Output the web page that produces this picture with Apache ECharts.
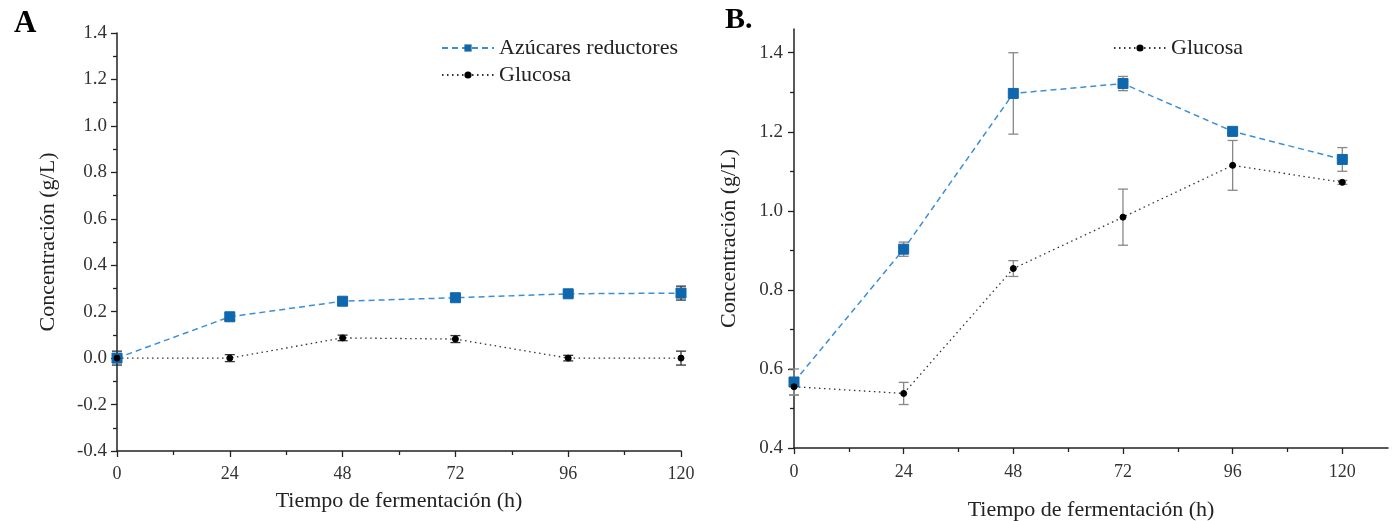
<!DOCTYPE html>
<html>
<head>
<meta charset="utf-8">
<script src="https://cdn.jsdelivr.net/npm/echarts@6/dist/echarts.min.js"></script>
<style>
  html, body { margin: 0; padding: 0; background: #fff; }
  #main { width: 1395px; height: 521px; }
</style>
</head>
<body>
<div id="main"></div>
<script>
// tiempos (h)
var horas = [0, 24, 48, 72, 96, 120];
var xTicks = [0, 24, 48, 72, 96, 120];

// panel A
var azucaresA = [0.0, 0.178, 0.245, 0.26, 0.277, 0.28];
var azucaresA_err = [0.03, 0.017, 0.01, 0.015, 0.01, 0.03];
var glucosaA = [0.0, 0.0, 0.087, 0.082, 0.0, 0.0];
var glucosaA_err = [0.0, 0.015, 0.012, 0.015, 0.012, 0.03];
var yTicksA = [-0.4, -0.2, 0.0, 0.2, 0.4, 0.6, 0.8, 1.0, 1.2, 1.4];

// panel B
var azucaresB = [0.567, 0.903, 1.297, 1.322, 1.201, 1.13];
var azucaresB_err = [0.033, 0.018, 0.103, 0.018, 0.008, 0.03];
var glucosaB = [0.555, 0.538, 0.854, 0.984, 1.115, 1.072];
var glucosaB_err = [0.021, 0.028, 0.02, 0.071, 0.063, 0.005];
var yTicksB = [0.4, 0.6, 0.8, 1.0, 1.2, 1.4];

var serif = 'Liberation Serif';
var blueLine = '#3a8fd6';
var blueMark = '#0f67ad';

function pts(ys) {
  return horas.map(function (h, i) { return [h, ys[i]]; });
}
function errs(ys, es) {
  return horas.map(function (h, i) { return [h, ys[i] - es[i], ys[i] + es[i]]; });
}

function errorSeries(idx, data, color) {
  return {
    type: 'custom',
    xAxisIndex: idx,
    yAxisIndex: idx,
    silent: true,
    z: 1,
    data: data,
    renderItem: function (params, api) {
      var x = api.value(0);
      var lo = api.coord([x, api.value(1)]);
      var hi = api.coord([x, api.value(2)]);
      var w = 5;
      var st = { stroke: color, lineWidth: 1.3 };
      return {
        type: 'group',
        children: [
          { type: 'line', shape: { x1: lo[0], y1: lo[1], x2: hi[0], y2: hi[1] }, style: st },
          { type: 'line', shape: { x1: lo[0] - w, y1: lo[1], x2: lo[0] + w, y2: lo[1] }, style: st },
          { type: 'line', shape: { x1: hi[0] - w, y1: hi[1], x2: hi[0] + w, y2: hi[1] }, style: st }
        ]
      };
    }
  };
}

function xAxis(idx, max, gap, margin) {
  return {
    gridIndex: idx,
    type: 'value',
    min: 0,
    max: max,
    interval: 24,
    name: 'Tiempo de fermentación (h)',
    nameLocation: 'middle',
    nameGap: gap,
    nameTextStyle: { fontFamily: serif, fontSize: 22, color: '#222' },
    axisLine: { onZero: false, lineStyle: { color: '#222', width: 1.5 } },
    axisTick: { show: true, length: 6, customValues: xTicks, lineStyle: { color: '#222', width: 1.3 } },
    minorTick: { show: true, splitNumber: 2, length: 4, lineStyle: { color: '#222', width: 1.3 } },
    axisLabel: { customValues: xTicks, margin: margin, fontFamily: serif, fontSize: 18, color: '#333' },
    splitLine: { show: false }
  };
}

function yAxis(idx, min, max, ticks, gap, margin) {
  return {
    gridIndex: idx,
    type: 'value',
    min: min,
    max: max,
    interval: 0.2,
    name: 'Concentración (g/L)',
    nameLocation: 'middle',
    nameGap: gap,
    nameTextStyle: { fontFamily: serif, fontSize: 22, color: '#222' },
    axisLine: { show: true, onZero: false, lineStyle: { color: '#222', width: 1.5 } },
    axisTick: { show: true, length: 6, customValues: ticks, lineStyle: { color: '#222', width: 1.3 } },
    minorTick: { show: true, splitNumber: 2, length: 4, lineStyle: { color: '#222', width: 1.3 } },
    axisLabel: {
      customValues: ticks,
      margin: margin,
      fontFamily: serif, fontSize: 19, color: '#333',
      formatter: function (v) { return v.toFixed(1); }
    },
    splitLine: { show: false }
  };
}

function azSeries(idx, ys) {
  return {
    name: 'Azúcares reductores',
    type: 'line',
    xAxisIndex: idx,
    yAxisIndex: idx,
    data: pts(ys),
    symbol: 'rect',
    symbolSize: 10,
    z: 3,
    lineStyle: { color: blueLine, width: 1.5, type: [6, 4] },
    itemStyle: { color: blueMark, borderColor: blueMark }
  };
}

function gluSeries(idx, ys) {
  return {
    name: 'Glucosa',
    type: 'line',
    xAxisIndex: idx,
    yAxisIndex: idx,
    data: pts(ys),
    symbol: 'circle',
    symbolSize: 6,
    z: 3,
    lineStyle: { color: '#333', width: 1.3, type: [1.5, 3.5] },
    itemStyle: { color: '#000', borderColor: '#000' }
  };
}

var chart = echarts.init(document.getElementById('main'), null, { renderer: 'canvas' });

var option = {
  backgroundColor: '#fff',
  animation: false,
  title: [
    { text: 'A', left: 9, top: 3, textStyle: { fontFamily: serif, fontSize: 31, fontWeight: 'bold', color: '#000' } },
    { text: 'B.', left: 720, top: 0, textStyle: { fontFamily: serif, fontSize: 30, fontWeight: 'bold', color: '#000' } }
  ],
  legend: [
    {
      data: ['Azúcares reductores', 'Glucosa'],
      orient: 'vertical',
      left: 436,
      top: 32,
      itemWidth: 52,
      itemHeight: 9,
      itemGap: 5,
      selectedMode: false,
      textStyle: { fontFamily: serif, fontSize: 22, color: '#222' }
    },
    {
      data: ['Glucosa'],
      orient: 'vertical',
      left: 1108,
      top: 32,
      itemWidth: 52,
      itemHeight: 9,
      selectedMode: false,
      textStyle: { fontFamily: serif, fontSize: 22, color: '#222' }
    }
  ],
  grid: [
    { left: 117, right: 714, top: 33, bottom: 70, outerBoundsMode: 'none' },
    { left: 794, right: 7, top: 29, bottom: 73, outerBoundsMode: 'none' }
  ],
  xAxis: [xAxis(0, 120, 39, 14), xAxis(1, 130, 51, 15)],
  yAxis: [yAxis(0, -0.4, 1.4, yTicksA, 58, 10), yAxis(1, 0.4, 1.46, yTicksB, 54, 11)],
  series: [
    errorSeries(0, errs(azucaresA, azucaresA_err), '#333'),
    errorSeries(0, errs(glucosaA, glucosaA_err), '#333'),
    azSeries(0, azucaresA),
    gluSeries(0, glucosaA),
    errorSeries(1, errs(azucaresB, azucaresB_err), '#888'),
    errorSeries(1, errs(glucosaB, glucosaB_err), '#888'),
    azSeries(1, azucaresB),
    gluSeries(1, glucosaB)
  ]
};

chart.setOption(option);
</script>
</body>
</html>
